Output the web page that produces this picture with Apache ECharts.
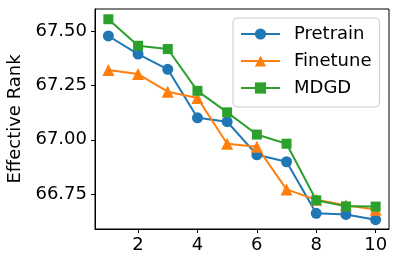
<!DOCTYPE html>
<html>
<head>
<meta charset="utf-8">
<script src="https://cdn.jsdelivr.net/npm/echarts@6/dist/echarts.min.js"></script>
<style>
html,body{margin:0;padding:0;background:#fff;}
#c{width:399px;height:266px;}
</style>
</head>
<body>
<div id="c"></div>
<script>
var xValues = [1, 2, 3, 4, 5, 6, 7, 8, 9, 10];
var pretrain = [67.477, 67.394, 67.324, 67.101, 67.083, 66.931, 66.899, 66.662, 66.657, 66.633];
var finetune = [67.321, 67.302, 67.221, 67.192, 66.982, 66.968, 66.772, 66.724, 66.699, 66.679];
var mdgd = [67.554, 67.432, 67.417, 67.225, 67.126, 67.024, 66.982, 66.722, 66.694, 66.693];
var xTicks = [2, 4, 6, 8, 10];
var yTicks = [66.75, 67.00, 67.25, 67.50];

function pairs(ys) { return xValues.map(function (x, i) { return [x, ys[i]]; }); }

var font = 'DejaVu Sans';
var chart = echarts.init(document.getElementById('c'), null, {renderer: 'canvas'});
function mk(name, data, color, symbol, size) {
  return {
    name: name, type: 'line', data: pairs(data),
    symbol: symbol, symbolSize: size,
    lineStyle: {color: color, width: 2},
    itemStyle: {color: color},
    emphasis: {disabled: true},
    animation: false
  };
}
chart.setOption({
  animation: false,
  backgroundColor: '#fff',
  grid: {left: 95, right: 10, top: 9, bottom: 37, show: true, borderColor: '#000', borderWidth: 1,
    backgroundColor: 'transparent', containLabel: false, outerBoundsMode: 'none'},
  xAxis: {
    type: 'value', min: 0.55, max: 10.45,
    axisLine: {show: true, lineStyle: {color: '#000', width: 1}},
    axisTick: {show: true, length: 4, lineStyle: {color: '#000'}, customValues: xTicks},
    axisLabel: {color: '#000', fontSize: 18, fontFamily: font, margin: 7, customValues: xTicks},
    splitLine: {show: false}
  },
  yAxis: {
    type: 'value', min: 66.59, max: 67.601,
    name: 'Effective Rank', nameLocation: 'middle', nameGap: 67,
    nameTextStyle: {color: '#000', fontSize: 18, fontFamily: font},
    axisLine: {show: true, lineStyle: {color: '#000', width: 1}},
    axisTick: {show: true, length: 4, lineStyle: {color: '#000'}, customValues: yTicks},
    axisLabel: {color: '#000', fontSize: 18, fontFamily: font, margin: 8, customValues: yTicks,
      formatter: function (v) { return v.toFixed(2); }},
    splitLine: {show: false}
  },
  legend: {
    orient: 'vertical', left: 233, top: 18,
    padding: [7, 8, 10, 7],
    itemWidth: 39, itemHeight: 14, itemGap: 9,
    backgroundColor: 'rgba(255,255,255,0.8)',
    borderColor: '#cccccc', borderWidth: 1, borderRadius: 4,
    textStyle: {color: '#000', fontSize: 18, fontFamily: font, padding: [0, 0, 0, 9]},
    data: ['Pretrain', 'Finetune', 'MDGD']
  },
  series: [
    mk('Pretrain', pretrain, '#1f77b4', 'circle', 11),
    mk('Finetune', finetune, '#ff7f0e', 'triangle', 12),
    mk('MDGD', mdgd, '#2ca02c', 'rect', 10)
  ]
});
</script>
</body>
</html>
